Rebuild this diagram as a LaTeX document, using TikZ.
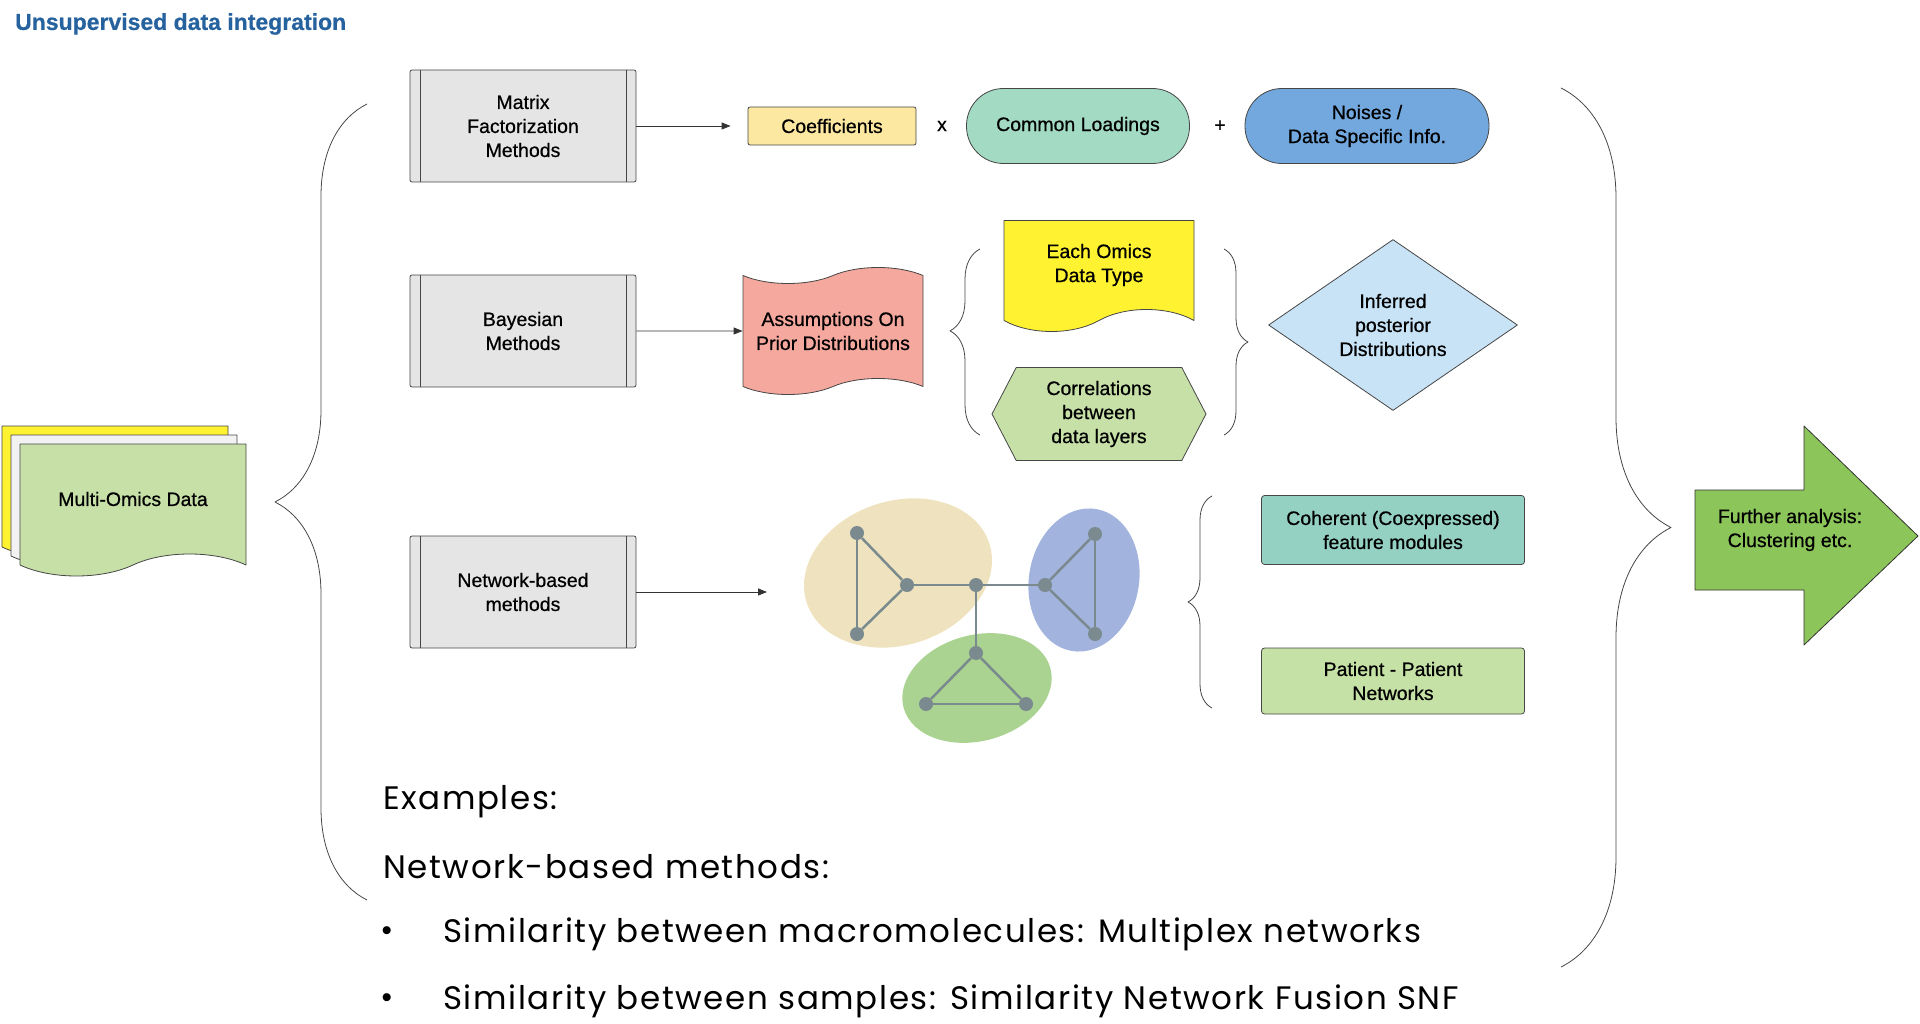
\documentclass[tikz,border=0pt]{standalone}
\usepackage{fontspec}
\usepackage{tikz}
\usetikzlibrary{arrows.meta,positioning,shapes.geometric,shapes.symbols,decorations.pathreplacing,calc}
\newfontfamily\lblfont[FakeBold=0.6]{Liberation Sans}
\newfontfamily\bodyfont[LetterSpace=5]{Poppins}
\definecolor{titleblue}{RGB}{38,98,158}
\definecolor{boxgray}{RGB}{229,229,229}
\definecolor{edgegray}{RGB}{70,70,70}
\definecolor{coefyellow}{RGB}{252,232,160}
\definecolor{loadteal}{RGB}{163,218,196}
\definecolor{noiseblue}{RGB}{114,168,222}
\definecolor{priorpink}{RGB}{245,168,158}
\definecolor{omicsyellow}{RGB}{255,242,48}
\definecolor{corrgreen}{RGB}{198,224,168}
\definecolor{postblue}{RGB}{200,227,246}
\definecolor{modteal}{RGB}{149,209,195}
\definecolor{patgreen}{RGB}{198,225,166}
\definecolor{arrowgreen}{RGB}{140,197,90}
\definecolor{tanclu}{RGB}{238,227,190}
\definecolor{blueclu}{RGB}{162,179,222}
\definecolor{greenclu}{RGB}{170,210,145}
\definecolor{vertgray}{RGB}{122,138,142}

\begin{document}
\begin{tikzpicture}[x=1pt,y=-1pt,line join=round,
  every node/.style={font=\lblfont\fontsize{19.5}{24}\selectfont,align=center,inner sep=0pt},
  method/.style={draw=edgegray,fill=boxgray,thick,rounded corners=2pt,
    minimum width=226pt,minimum height=112pt,
    path picture={\draw[edgegray,thick]
      ([xshift=10pt]path picture bounding box.north west)--([xshift=10pt]path picture bounding box.south west)
      ([xshift=-10pt]path picture bounding box.north east)--([xshift=-10pt]path picture bounding box.south east);}},
  pill/.style={draw=edgegray,thick,rounded corners=37pt,minimum height=75pt},
  flat/.style={draw=edgegray,thick,rounded corners=3pt},
  doc/.style={tape,draw=edgegray,thick,tape bend top=none,tape bend height=22pt},
  flow/.style={-{Triangle[length=9pt,width=7pt]},thick,black!80},
  brc/.style={decorate,draw=edgegray,thick},
  vert/.style={circle,fill=vertgray,minimum size=14pt},
  link/.style={draw=vertgray,line width=2.5pt},
  body/.style={font=\bodyfont\fontsize{32.5}{38}\selectfont,anchor=west}]
\useasboundingbox (0,0) rectangle (1920,1024);
\node[anchor=west,text=titleblue,font=\lblfont\bfseries\fontsize{23}{26}\selectfont] (title) at (15,24) {Unsupervised data integration};

% input data
\foreach \dx/\col/\nm/\lbl in {0/omicsyellow/omicsA/{},9/black!5/omicsB/{},18/corrgreen/omics/{Multi-Omics Data}}
  \node[doc,fill=\col,minimum width=226pt,minimum height=132pt] (\nm) at (115+\dx,481+\dx) {\lbl};

% methods
\node[method] (mf) at (523,126) {Matrix\\Factorization\\Methods};
\node[method] (bayes) at (523,331) {Bayesian\\Methods};
\node[method] (netw) at (523,592) {Network-based\\methods};

% matrix factorization
\node[flat,fill=coefyellow,rounded corners=2pt,minimum width=168pt,minimum height=38pt] (coef) at (832,126) {Coefficients};
\node (times) at (942,126) {x};
\node[pill,fill=loadteal,minimum width=223pt] (load) at (1078,126) {Common Loadings};
\node (plus) at (1220,126) {+};
\node[pill,fill=noiseblue,minimum width=244pt] (noise) at (1367,126) {Noises /\\Data Specific Info.};
\draw[flow,shorten >=17pt] (mf) -- (coef);

% bayesian
\node[tape,draw=edgegray,thick,fill=priorpink,tape bend height=16pt,minimum width=180pt,minimum height=127pt] (prior) at (833,331) {Assumptions On\\Prior Distributions};
\draw[flow] (bayes) -- (prior);
\node[doc,fill=omicsyellow,minimum width=190pt,minimum height=111pt] (each) at (1099,265) {Each Omics\\Data Type};
\node[signal,signal to=west and east,signal pointer angle=125,draw=edgegray,thick,fill=corrgreen,
  minimum width=214pt,minimum height=93pt] (corr) at (1099,414) {Correlations\\between\\data layers};
\node[diamond,draw=edgegray,thick,fill=postblue,minimum width=249pt,minimum height=171pt] (post) at (1393,325) {Inferred\\posterior\\Distributions};
\draw[brc,decoration={brace,amplitude=30pt,aspect=0.56}] (980,435) -- (980,249);
\draw[brc,decoration={brace,amplitude=24pt}] (1224,249) -- (1224,435);

% network
\fill[tanclu,rotate around={18:(898,573)}] (898,573) ellipse [x radius=96,y radius=72];
\fill[blueclu,rotate around={-10:(1084,580)}] (1084,580) ellipse [x radius=55,y radius=72];
\fill[greenclu,rotate around={15:(977,688)}] (977,688) ellipse [x radius=76,y radius=53];
\foreach \nm/\x/\y in {v1/857/533,v2/857/634,v3/907/585,v4/976/585,v5/1045/585,
    v6/1095/534,v7/1095/634,v8/976/653,v9/926/704,v10/1026/704}
  \node[vert] (\nm) at (\x,\y) {};
\foreach \a/\b in {v1/v2,v1/v3,v2/v3,v3/v4,v4/v5,v5/v6,v5/v7,v6/v7,v4/v8,v8/v9,v8/v10,v9/v10}
  \draw[link] (\a) -- (\b);
\coordinate (netend) at (767,592);
\draw[flow] (netw) -- (netend);
\draw[brc,decoration={brace,amplitude=24pt}] (1212,708) -- (1212,496);
\node[flat,fill=modteal,minimum width=263pt,minimum height=69pt] (coh) at (1393,530) {Coherent (Coexpressed)\\feature modules};
\node[flat,fill=patgreen,minimum width=263pt,minimum height=66pt] (pat) at (1393,681) {Patient - Patient\\Networks};

% big braces + output
\draw[brc,decoration={brace,amplitude=92pt}] (367,900) -- (367,104);
\draw[brc,decoration={brace,amplitude=110pt}] (1561,88) -- (1561,967);
\draw[draw=black!80,thick,fill=arrowgreen] (1695,490) -- (1804,490) -- (1804,426) -- (1918,536)
  -- (1804,645) -- (1804,590) -- (1695,590) -- cycle;
\node (further) at (1790,530) {Further analysis:\\Clustering etc.};

% examples text
\node[body] (ex) at (383,802) {Examples:};
\node[body] (netex) at (383,867) {Network-based methods:};
\node[body] (dotA) at (380,934) {\textbullet};
\node[body] (simA) at (443,934) {Similarity between macromolecules: Multiplex networks};
\node[body] (dotB) at (380,1001) {\textbullet};
\node[body] (simB) at (443,1001) {Similarity between samples: Similarity Network Fusion SNF};
\end{tikzpicture}
\end{document}
